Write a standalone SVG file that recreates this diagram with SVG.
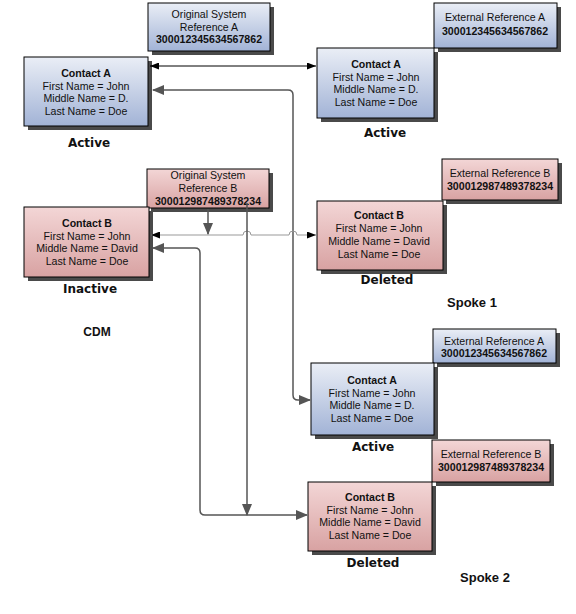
<svg xmlns="http://www.w3.org/2000/svg" width="576" height="614" viewBox="0 0 576 614">
<style>
.box{stroke:#000;stroke-width:1}
.blue{fill:url(#gBlue)}
.pink{fill:url(#gPink)}
.sh{fill:#4a4a4a}
.t{font-family:"Liberation Sans",Arial,sans-serif;font-size:10.6px;fill:#111;text-anchor:middle}
.b{font-weight:bold}
.lab{font-family:"DejaVu Sans",Verdana,sans-serif;font-size:12px;font-weight:bold;fill:#111;text-anchor:middle}
.lab2{font-family:"Liberation Sans",Arial,sans-serif;font-size:13px;font-weight:bold;fill:#111;text-anchor:middle}
.gl{fill:none;stroke:#555;stroke-width:1.5}
.bl{fill:none;stroke:#000;stroke-width:1}
.ll{fill:none;stroke:#999;stroke-width:1}
</style>
<defs>
<linearGradient id="gBlue" x1="0" y1="0" x2="0" y2="1">
<stop offset="0" stop-color="#eaeef6"/><stop offset="1" stop-color="#a2b3d6"/>
</linearGradient>
<linearGradient id="gPink" x1="0" y1="0" x2="0" y2="1">
<stop offset="0" stop-color="#f3d6d6"/><stop offset="1" stop-color="#d8a2a2"/>
</linearGradient>
<marker id="ag" markerUnits="userSpaceOnUse" markerWidth="12" markerHeight="10" refX="11" refY="5" orient="auto-start-reverse">
<path d="M0,0 L12,5 L0,10 z" fill="#555"/>
</marker>
<marker id="ab" markerUnits="userSpaceOnUse" markerWidth="9" markerHeight="7" refX="9" refY="3.5" orient="auto-start-reverse">
<path d="M0,0 L9,3.5 L0,7 z" fill="#000"/>
</marker>
</defs>

<g id="origA">
<rect class="sh" x="152" y="7" width="122" height="48"/>
<rect class="box blue" x="148" y="3" width="122" height="48"/>
<text class="t" x="209" y="18">Original System</text>
<text class="t" x="209" y="30.5">Reference A</text>
<text class="t b" x="209" y="43">300012345634567862</text>
</g>

<g id="cdmA">
<rect class="sh" x="28" y="61" width="124" height="69"/>
<rect class="box blue" x="24" y="57" width="124" height="69"/>
<text class="t b" x="86" y="77">Contact A</text>
<text class="t" x="86" y="89.5">First Name = John</text>
<text class="t" x="86" y="102">Middle Name = D.</text>
<text class="t" x="86" y="114.5">Last Name = Doe</text>
</g>
<text class="lab" x="89" y="147">Active</text>

<g id="s1extA">
<rect class="sh" x="438" y="7" width="123" height="45"/>
<rect class="box blue" x="434" y="3" width="123" height="45"/>
<text class="t" x="495" y="21">External Reference A</text>
<text class="t b" x="495" y="35">300012345634567862</text>
</g>

<g id="s1A">
<rect class="sh" x="321" y="52" width="117" height="70"/>
<rect class="box blue" x="317" y="48" width="117" height="70"/>
<text class="t b" x="376" y="68">Contact A</text>
<text class="t" x="376" y="80.5">First Name = John</text>
<text class="t" x="376" y="93">Middle Name = D.</text>
<text class="t" x="376" y="105.5">Last Name = Doe</text>
</g>
<text class="lab" x="385" y="137">Active</text>

<g id="origB">
<rect class="sh" x="151" y="173" width="122" height="39"/>
<rect class="box pink" x="147" y="169" width="122" height="39"/>
<text class="t" x="208" y="179">Original System</text>
<text class="t" x="208" y="192">Reference B</text>
<text class="t b" x="208" y="205">300012987489378234</text>
</g>

<g id="cdmB">
<rect class="sh" x="28" y="211" width="125" height="70"/>
<rect class="box pink" x="24" y="207" width="125" height="70"/>
<text class="t b" x="87" y="227">Contact B</text>
<text class="t" x="87" y="239.5">First Name = John</text>
<text class="t" x="87" y="252">Middle Name = David</text>
<text class="t" x="87" y="264.5">Last Name = Doe</text>
</g>
<text class="lab" x="90" y="293">Inactive</text>
<text class="lab2" x="97" y="336" style="font-size:12px">CDM</text>

<g id="s1extB">
<rect class="sh" x="446" y="163" width="116" height="41"/>
<rect class="box pink" x="442" y="159" width="116" height="41"/>
<text class="t" x="500" y="177">External Reference B</text>
<text class="t b" x="500" y="190">300012987489378234</text>
</g>

<g id="s1B">
<rect class="sh" x="321" y="205" width="126" height="69"/>
<rect class="box pink" x="317" y="201" width="126" height="69"/>
<text class="t b" x="379" y="219">Contact B</text>
<text class="t" x="379" y="232">First Name = John</text>
<text class="t" x="379" y="245">Middle Name = David</text>
<text class="t" x="379" y="258">Last Name = Doe</text>
</g>
<text class="lab" x="387" y="284">Deleted</text>
<text class="lab2" x="472" y="307">Spoke 1</text>

<g id="s2extA">
<rect class="sh" x="437" y="333" width="123" height="34"/>
<rect class="box blue" x="433" y="329" width="123" height="34"/>
<text class="t" x="494" y="344.5">External Reference A</text>
<text class="t b" x="494" y="357">300012345634567862</text>
</g>

<g id="s2A">
<rect class="sh" x="315" y="367" width="123" height="72"/>
<rect class="box blue" x="311" y="363" width="123" height="72"/>
<text class="t b" x="372" y="384">Contact A</text>
<text class="t" x="372" y="396.5">First Name = John</text>
<text class="t" x="372" y="409">Middle Name = D.</text>
<text class="t" x="372" y="421.5">Last Name = Doe</text>
</g>
<text class="lab" x="373" y="451">Active</text>

<g id="s2extB">
<rect class="sh" x="436" y="444" width="118" height="42"/>
<rect class="box pink" x="432" y="440" width="118" height="42"/>
<text class="t" x="491" y="458">External Reference B</text>
<text class="t b" x="491" y="470.5">300012987489378234</text>
</g>

<g id="s2B">
<rect class="sh" x="312" y="486" width="124" height="69"/>
<rect class="box pink" x="308" y="482" width="124" height="69"/>
<text class="t b" x="370" y="501">Contact B</text>
<text class="t" x="370" y="513.5">First Name = John</text>
<text class="t" x="370" y="526">Middle Name = David</text>
<text class="t" x="370" y="538.5">Last Name = Doe</text>
</g>
<text class="lab" x="373" y="567">Deleted</text>
<text class="lab2" x="485" y="582">Spoke 2</text>

<g id="connectors">
<path class="bl" d="M150,66 H316" marker-start="url(#ab)" marker-end="url(#ab)"/>
<path class="gl" d="M153,90 H288 Q293,90 293,95 V395 Q293,400 298,400 H310" marker-start="url(#ag)" marker-end="url(#ag)"/>
<path class="ll" d="M151,235 H243 a4,4 0 0 1 8,0 H289 a4,4 0 0 1 8,0 H316" marker-start="url(#ab)" marker-end="url(#ab)"/>
<path class="gl" d="M208,209 V234" marker-end="url(#ag)"/>
<path class="gl" d="M153,248 H195 Q200,248 200,253 V510 Q200,515 205,515 H307" marker-start="url(#ag)" marker-end="url(#ag)"/>
<path class="gl" d="M247,203 V515" marker-end="url(#ag)"/>
</g>
</svg>
